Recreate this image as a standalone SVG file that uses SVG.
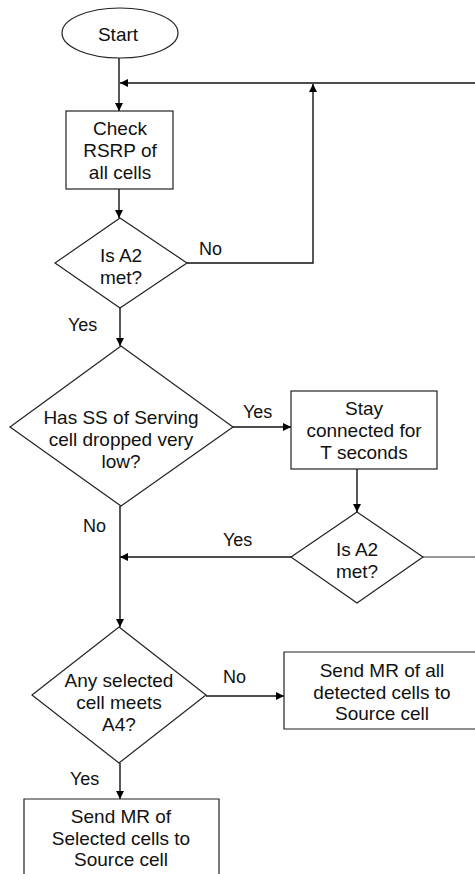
<svg xmlns="http://www.w3.org/2000/svg" width="475" height="874" viewBox="0 0 475 874">
<style>
.s{fill:#fff;stroke:#222;stroke-width:1.2}
.t{font-family:"Liberation Sans",Arial,sans-serif;font-size:19px;fill:#111;text-anchor:middle}
.l{font-family:"Liberation Sans",Arial,sans-serif;font-size:18px;fill:#111}
.c{fill:none;stroke:#111;stroke-width:1.4}
</style>
<defs>
<marker id="a" viewBox="0 0 10 10" refX="10" refY="5" markerWidth="8" markerHeight="8" markerUnits="userSpaceOnUse" orient="auto">
<path d="M0,0 L10,5 L0,10 z" fill="#000"/>
</marker>
</defs>
<rect width="475" height="874" fill="#fff"/>
<g id="connectors">
<path class="c" d="M119,58 V111" marker-end="url(#a)"/>
<path class="c" d="M475,83 H120" marker-end="url(#a)"/>
<path class="c" d="M119,189 V218" marker-end="url(#a)"/>
<path class="c" d="M187,263 H313 V84" marker-end="url(#a)"/>
<path class="c" d="M120,308 V346" marker-end="url(#a)"/>
<path class="c" d="M233,427 H291" marker-end="url(#a)"/>
<path class="c" d="M357,469 V512" marker-end="url(#a)"/>
<path class="c" d="M291,557 H120" marker-end="url(#a)"/>
<path d="M423,557 H475" fill="none" stroke="#777" stroke-width="1.4"/>
<path class="c" d="M120,506 V627" marker-end="url(#a)"/>
<path class="c" d="M206,696 H284" marker-end="url(#a)"/>
<path class="c" d="M120,763 V799" marker-end="url(#a)"/>
<text class="l" x="199" y="255">No</text>
<text class="l" x="68" y="331">Yes</text>
<text class="l" x="243" y="418">Yes</text>
<text class="l" x="83" y="532">No</text>
<text class="l" x="223" y="546">Yes</text>
<text class="l" x="223" y="683">No</text>
<text class="l" x="70" y="785">Yes</text>
</g>
<g id="start">
<ellipse class="s" cx="120" cy="33" rx="58" ry="25"/>
<text class="t" x="118" y="41">Start</text>
</g>
<g id="check">
<rect class="s" x="66" y="111" width="107" height="78"/>
<text class="t" x="120" y="135">Check</text>
<text class="t" x="120" y="157">RSRP of</text>
<text class="t" x="120" y="179">all cells</text>
</g>
<g id="a2first">
<polygon class="s" points="120,218 187,263 120,308 55,263"/>
<text class="t" x="121" y="262">Is A2</text>
<text class="t" x="121" y="284">met?</text>
</g>
<g id="ssdrop">
<polygon class="s" points="121,346 233,427 121,506 10,427"/>
<text class="t" x="121" y="424">Has SS of Serving</text>
<text class="t" x="121" y="446">cell dropped very</text>
<text class="t" x="121" y="468">low?</text>
</g>
<g id="stay">
<rect class="s" x="291" y="391" width="146" height="78"/>
<text class="t" x="364" y="415">Stay</text>
<text class="t" x="364" y="437">connected for</text>
<text class="t" x="364" y="459">T seconds</text>
</g>
<g id="a2second">
<polygon class="s" points="357,512 423,557 357,603 291,557"/>
<text class="t" x="357" y="556">Is A2</text>
<text class="t" x="357" y="578">met?</text>
</g>
<g id="a4">
<polygon class="s" points="119,627 206,695 119,763 32,695"/>
<text class="t" x="119" y="687">Any selected</text>
<text class="t" x="119" y="709">cell meets</text>
<text class="t" x="119" y="731">A4?</text>
</g>
<g id="sendall">
<path class="s" d="M476,652 H284 V729 H476"/>
<text class="t" x="382" y="677">Send MR of all</text>
<text class="t" x="382" y="699">detected cells to</text>
<text class="t" x="382" y="720">Source cell</text>
</g>
<g id="sendsel">
<path class="s" d="M24,875 V799 H219 V875"/>
<text class="t" x="121" y="823">Send MR of</text>
<text class="t" x="121" y="845">Selected cells to</text>
<text class="t" x="121" y="866">Source cell</text>
</g>
</svg>
